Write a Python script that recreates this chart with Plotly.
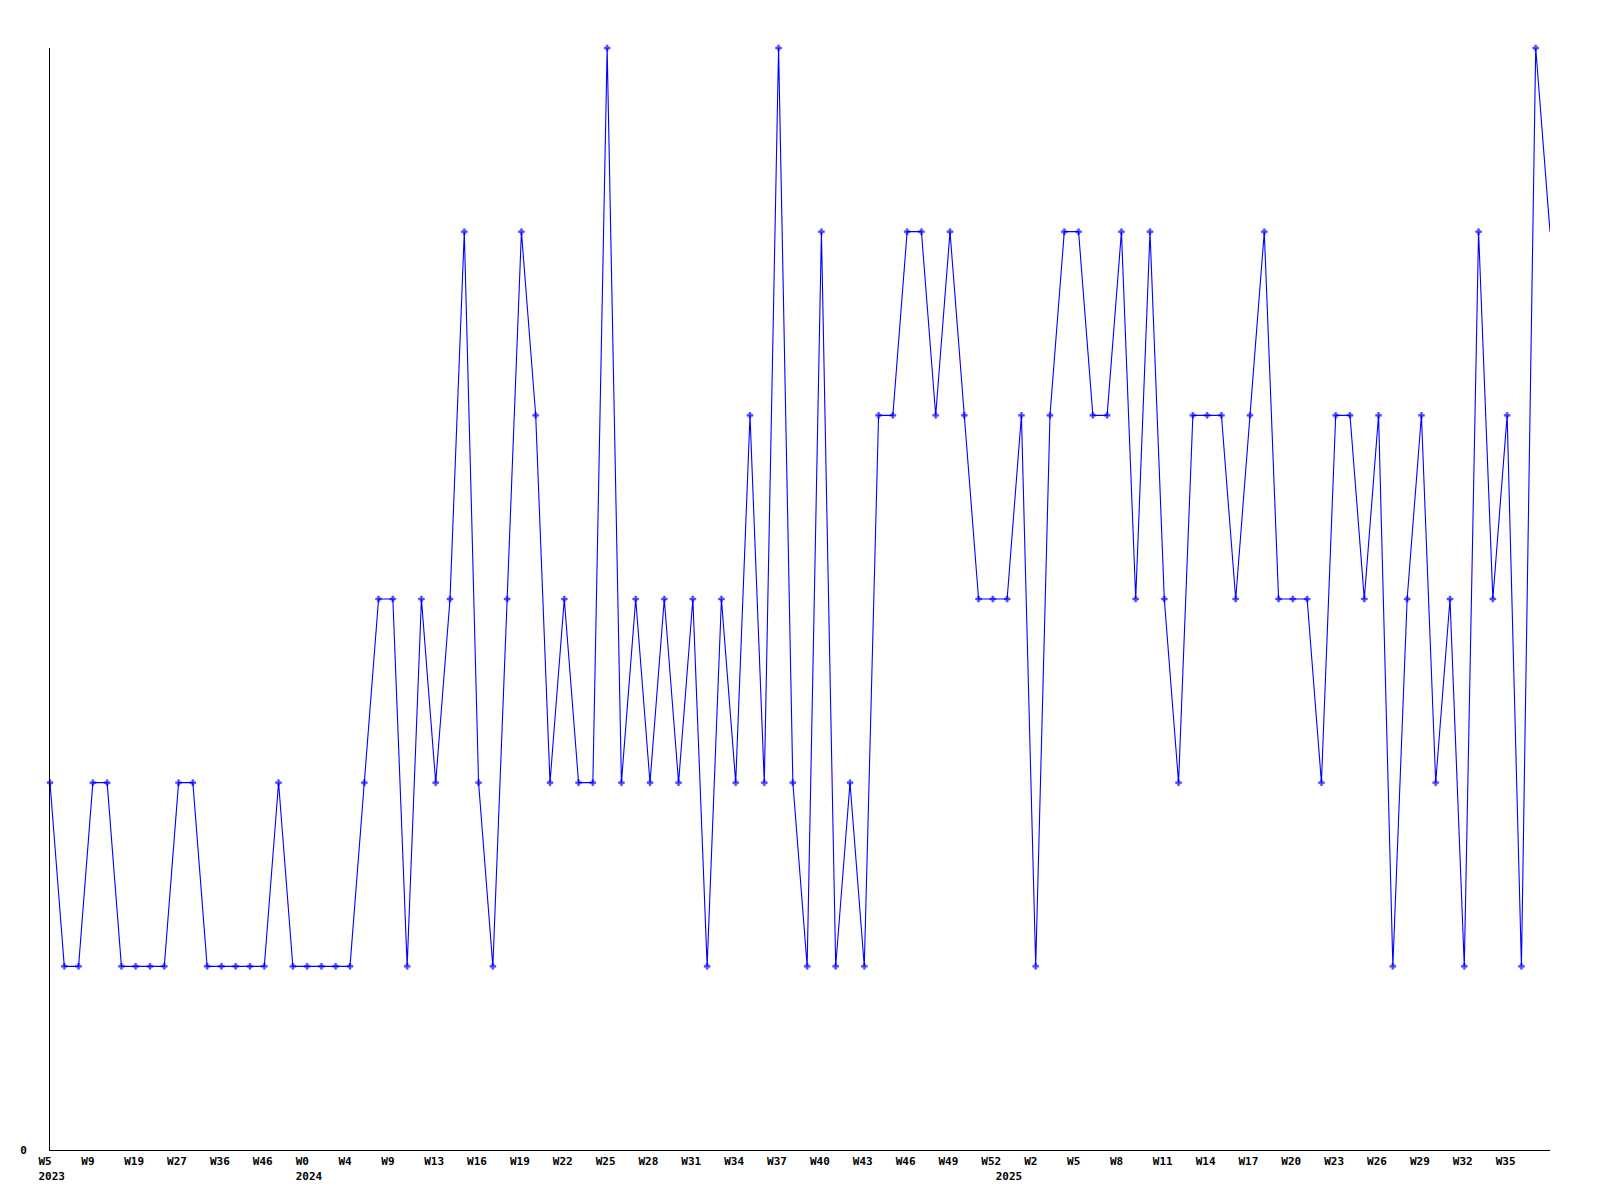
import plotly.graph_objects as go

# Weekly values (one point per observed week)
values = [2, 1, 1, 2, 2, 1, 1, 1, 1, 2,
          2, 1, 1, 1, 1, 1, 2, 1, 1, 1,
          1, 1, 2, 3, 3, 1, 3, 2, 3, 5,
          2, 1, 3, 5, 4, 2, 3, 2, 2, 6,
          2, 3, 2, 3, 2, 3, 1, 3, 2, 4,
          2, 6, 2, 1, 5, 1, 2, 1, 4, 4,
          5, 5, 4, 5, 4, 3, 3, 3, 4, 1,
          4, 5, 5, 4, 4, 5, 3, 5, 3, 2,
          4, 4, 4, 3, 4, 5, 3, 3, 3, 2,
          4, 4, 3, 4, 1, 3, 4, 2, 3, 1,
          5, 3, 4, 1, 6, 5]

# Week tick labels, shown on every 3rd point
week_labels = ["W5", "W9", "W19", "W27", "W36", "W46", "W0", "W4", "W9", "W13",
               "W16", "W19", "W22", "W25", "W28", "W31", "W34", "W37", "W40", "W43",
               "W46", "W49", "W52", "W2", "W5", "W8", "W11", "W14", "W17", "W20",
               "W23", "W26", "W29", "W32", "W35"]
label_step = 3

# Year labels: point index where each year begins
year_starts = {0: "2023", 18: "2024", 67: "2025"}

x = list(range(len(values)))

tickvals = []
ticktext = []
for k, w in enumerate(week_labels):
    idx = k * label_step
    txt = w
    if idx in year_starts:
        txt = w + "<br>" + year_starts[idx]
    tickvals.append(idx)
    ticktext.append(txt)
for idx, yr in year_starts.items():
    if idx not in tickvals:
        tickvals.append(idx)
        ticktext.append(" <br>" + yr)

marker_sizes = [5] * (len(values) - 1) + [0]

fig = go.Figure()
fig.add_trace(go.Scatter(
    x=x, y=values, mode="lines+markers",
    line=dict(color="#0000FF", width=1.1),
    marker=dict(symbol="cross", size=marker_sizes, color="#0000FF",
                line=dict(width=0.5, color="#0000FF")),
    cliponaxis=False,
    hoverinfo="skip",
))

tick_font = dict(family="DejaVu Sans Mono", size=11, color="#000000", weight="bold")

fig.update_layout(
    width=1600, height=1200,
    margin=dict(l=42, r=58, t=40, b=58, pad=0),
    paper_bgcolor="#FFFFFF", plot_bgcolor="#FFFFFF",
    showlegend=False,
    xaxis=dict(
        range=[0, len(values) - 1],
        showgrid=False, zeroline=False,
        showline=True, linecolor="#000000", linewidth=1,
        ticks="", tickmode="array", tickvals=tickvals, ticktext=ticktext,
        tickfont=tick_font,
        ticklabelposition="outside right",
        ticklabelshift=-12,
        ticklabelstandoff=1,
    ),
    yaxis=dict(
        range=[0, 6],
        showgrid=False, zeroline=False,
        showline=True, linecolor="#000000", linewidth=1,
        ticks="", tickmode="array", tickvals=[0], ticktext=["0"],
        tickfont=tick_font,
        ticklabelstandoff=20,
    ),
)

fig.write_html("out.html")
